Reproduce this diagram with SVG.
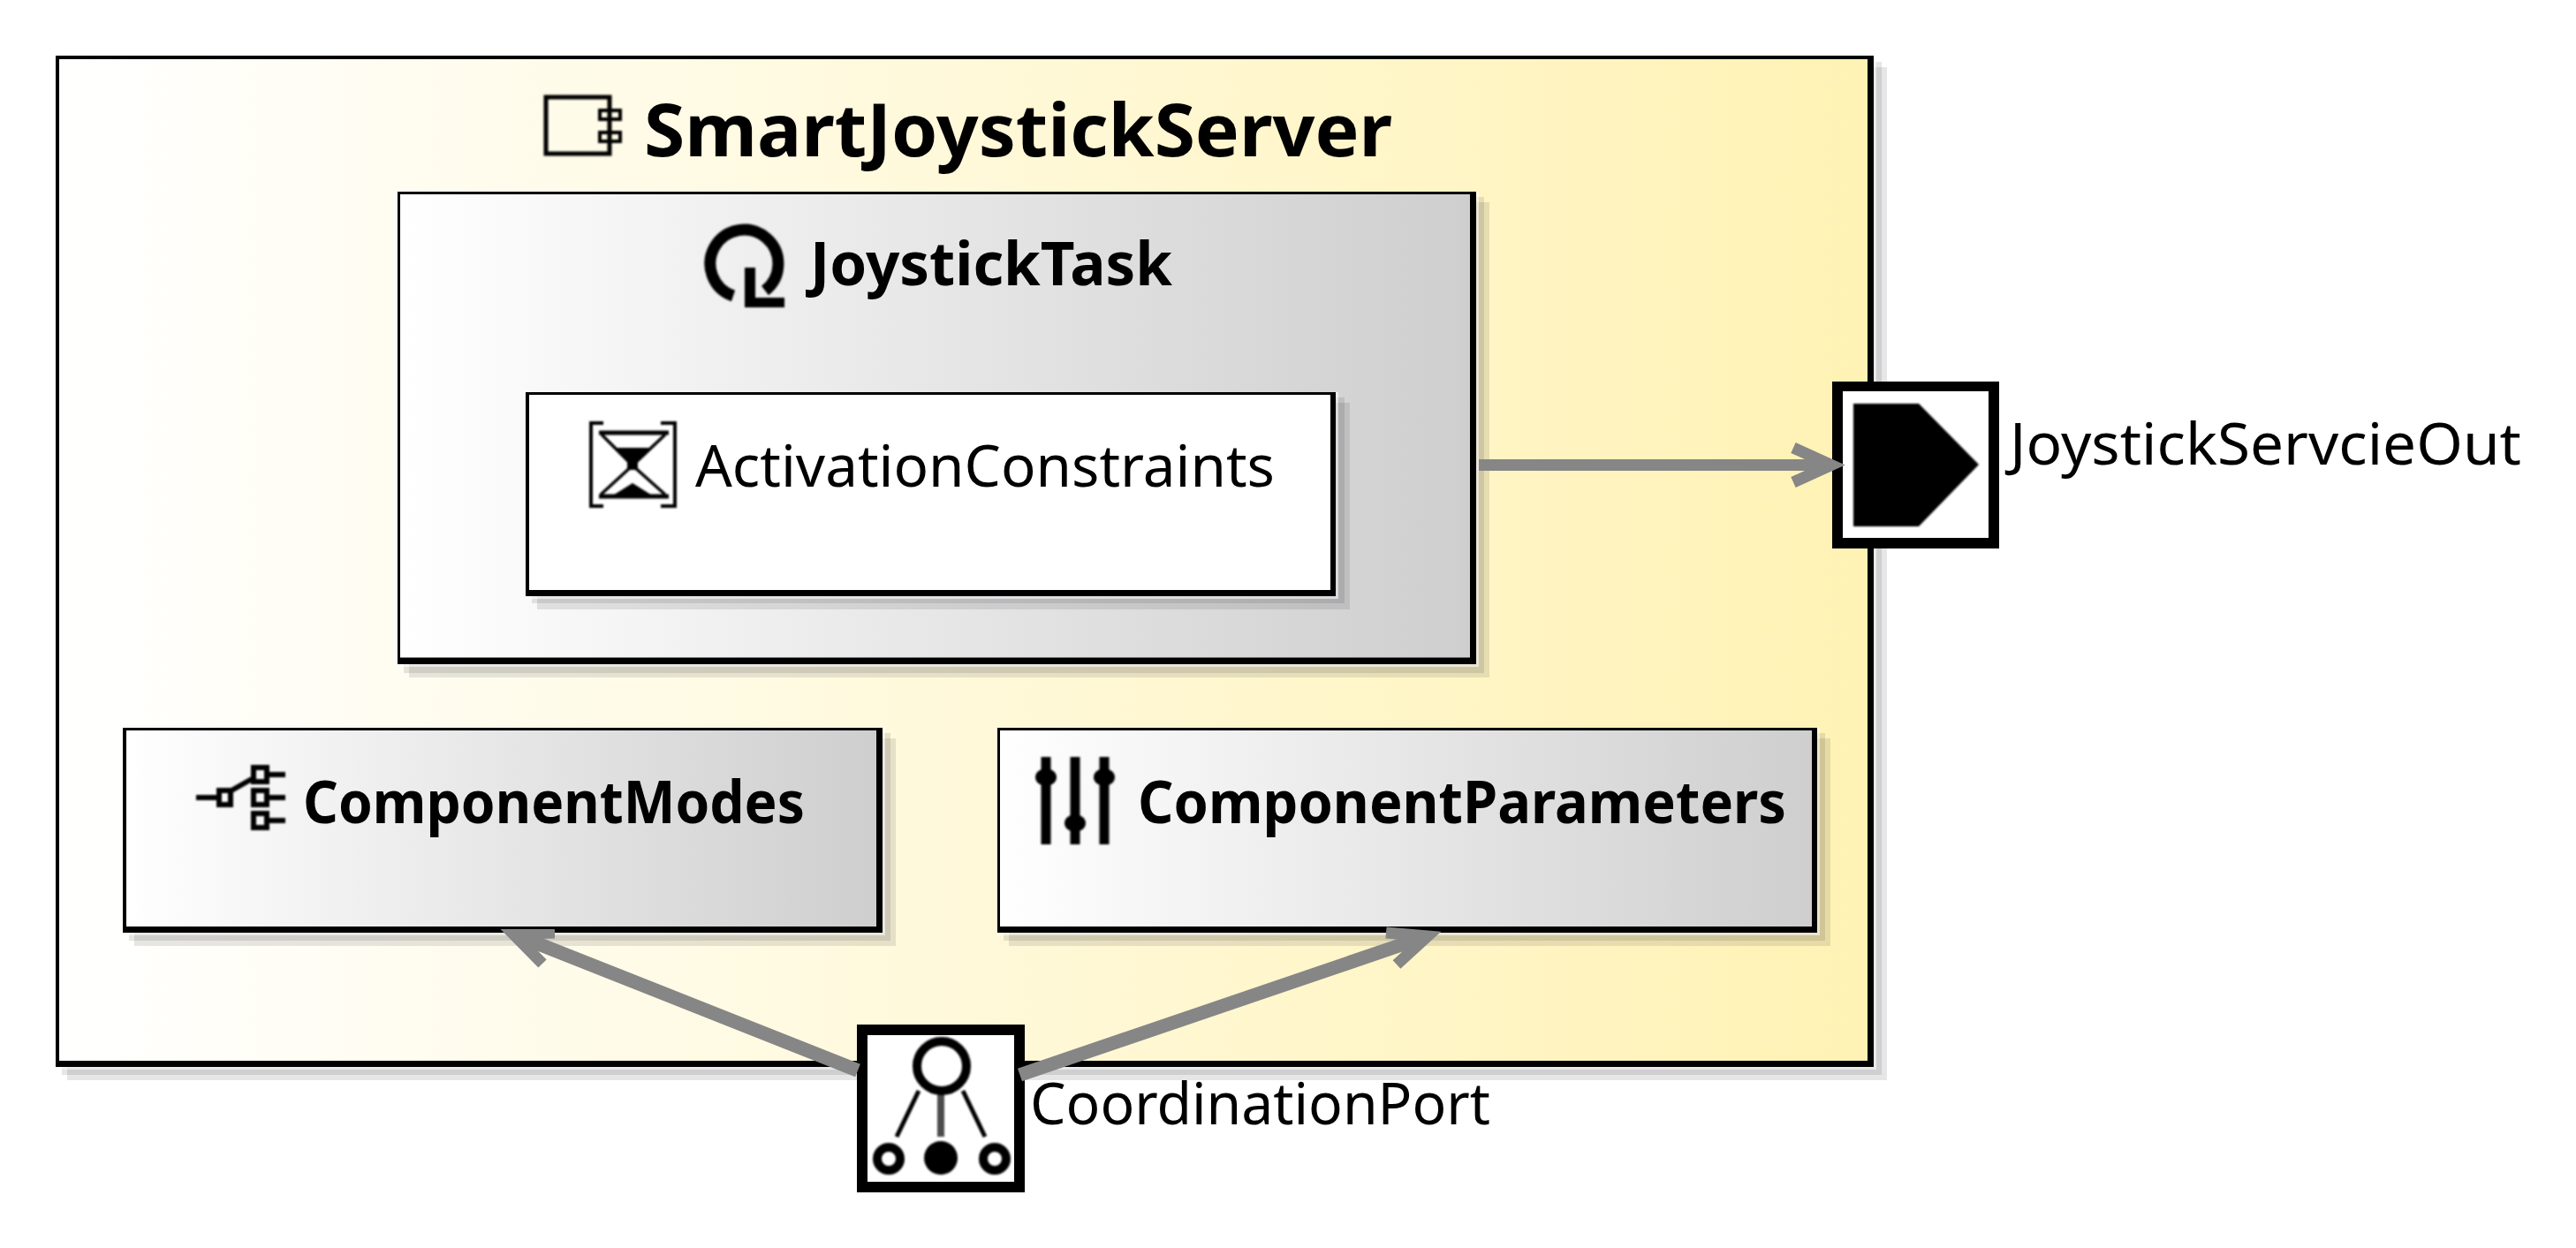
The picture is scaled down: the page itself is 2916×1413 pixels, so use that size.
<svg xmlns="http://www.w3.org/2000/svg" width="2916" height="1413" viewBox="0 0 2916 1413">
<style>
text{font-family:"Noto Sans","Open Sans","Liberation Sans",sans-serif;fill:#000}
.b{font-weight:700}
.shadow{fill:#101020;fill-opacity:.105}
.halo{fill:#fff;fill-opacity:.55}
.frame{fill:#000;fill-rule:evenodd}
.conn{fill:none;stroke:#868686;stroke-width:13;stroke-miterlimit:10}
.diag{stroke-width:15.500}
.ico{fill:none;stroke:#000}
.soft{filter:url(#soft)}
</style>
<defs>
<linearGradient id="gy"><stop offset="0" stop-color="#fff"/><stop offset="1" stop-color="#fff2b4"/></linearGradient>
<linearGradient id="gg"><stop offset="0" stop-color="#fff"/><stop offset="1" stop-color="#cecece"/></linearGradient>
<filter id="soft" x="-10%" y="-10%" width="120%" height="120%"><feGaussianBlur stdDeviation="1"/></filter>
<clipPath id="cl"><rect x="400" y="1052" width="228" height="100"/><rect x="628" y="1066" width="400" height="200"/></clipPath>
</defs>
<rect width="2916" height="1413" fill="#fff"/>
<g id="SmartJoystickServer">
<rect class="shadow" x="70" y="70" width="2060" height="1147"/>
<rect class="shadow" x="76" y="76" width="2060" height="1147"/>
<rect class="halo" x="63" y="63" width="2061" height="1148"/>
<rect x="63" y="63" width="2058" height="1145" fill="url(#gy)"/>
<path class="frame" d="M63 63H2121V1208H63ZM67 67V1201H2114V67Z"/>
<g class="soft">
<path class="ico" stroke-width="5" fill="#fff" d="M618 110H690V174H618Z"/>
<path class="ico" stroke-width="4" fill="#fff" d="M679 125H702V135H679ZM679 150H702V160H679Z"/>
</g>
<text class="b" x="729" y="177" font-size="82" textLength="847" lengthAdjust="spacingAndGlyphs">SmartJoystickServer</text>
</g>
<g id="JoystickTask">
<rect class="shadow" x="457" y="223" width="1223" height="539"/>
<rect class="shadow" x="463" y="229" width="1223" height="538"/>
<rect class="halo" x="450" y="217" width="1224" height="538"/>
<rect x="450" y="217" width="1221" height="535" fill="url(#gg)"/>
<path class="frame" d="M450 217H1671V752H450ZM453 220V744.500H1664V220Z"/>
<g class="soft">
<path class="ico" stroke-width="13" d="M830 335A38.500 38.500 0 1 1 866 329"/>
<path d="M843 303H855V337H888V348H843Z"/>
</g>
<text class="b" x="917" y="323" font-size="69" textLength="410" lengthAdjust="spacingAndGlyphs">JoystickTask</text>
</g>
<g id="ActivationConstraints">
<rect class="shadow" x="602" y="450" width="920" height="233"/>
<rect class="shadow" x="608" y="456" width="920" height="234"/>
<rect class="halo" x="595" y="444" width="920" height="234"/>
<rect x="595" y="444" width="917" height="231" fill="#fff"/>
<path class="frame" d="M595 444H1512V675H595ZM599 447V668H1506V447Z"/>
<g class="soft">
<path class="ico" stroke-width="4" d="M683 479H669V573H683M748 479H764V573H748"/>
<path class="ico" stroke-width="5" d="M678 490H757M678 562H757"/>
<path class="ico" stroke-width="3.500" d="M681 492L716 527L753 492M716 527L680 560M716 527L753 560"/>
<path d="M698 507H735L722 522V532H710V522Z"/>
<path d="M716 547L740 562H692Z"/>
</g>
<text x="787" y="551" font-size="65" textLength="656" lengthAdjust="spacingAndGlyphs">ActivationConstraints</text>
</g>
<g id="ComponentModes">
<rect class="shadow" x="146" y="830" width="862" height="235"/>
<rect class="shadow" x="152" y="836" width="862" height="235"/>
<rect class="halo" x="139" y="824" width="863" height="235"/>
<rect x="139" y="824" width="860" height="232" fill="url(#gg)"/>
<path class="frame" d="M139 824H999V1056H139ZM143 827V1049H992V827Z"/>
<g class="soft">
<path class="ico" stroke-width="6" d="M222 903H247M305 877H323M305 903H323M305 929H323M262 895L285 882"/>
<path class="ico" stroke-width="6" fill="#fff" d="M248 895H261V911H248ZM287 869H302V885H287ZM287 895H302V911H287ZM287 921H302V937H287Z"/>
</g>
<text class="b" x="343" y="932" font-size="66" textLength="568" lengthAdjust="spacingAndGlyphs">ComponentModes</text>
</g>
<g id="ComponentParameters">
<rect class="shadow" x="1136" y="830" width="930" height="235"/>
<rect class="shadow" x="1142" y="836" width="930" height="235"/>
<rect class="halo" x="1129" y="824" width="931" height="235"/>
<rect x="1129" y="824" width="928" height="232" fill="url(#gg)"/>
<path class="frame" d="M1129 824H2057V1056H1129ZM1132 827V1049H2051V827Z"/>
<g class="soft">
<path class="ico" stroke-width="11" d="M1184 857V956M1217 857V956M1250 857V956"/>
<ellipse cx="1184" cy="880" rx="12" ry="10"/>
<ellipse cx="1217" cy="932" rx="12" ry="10"/>
<ellipse cx="1250" cy="880" rx="12" ry="10"/>
</g>
<text class="b" x="1288" y="932" font-size="66" textLength="734" lengthAdjust="spacingAndGlyphs">ComponentParameters</text>
</g>
<g id="JoystickServcieOut">
<rect x="2074" y="432" width="189" height="189" fill="#fff"/>
<path class="frame" d="M2074 432H2263V621H2074ZM2086 443V609H2251V443Z"/>
<path class="soft" d="M2098 457H2172L2240 526L2172 596H2098Z"/>
<text x="2275" y="526" font-size="66" textLength="579" lengthAdjust="spacingAndGlyphs">JoystickServcieOut</text>
</g>
<g id="CoordinationPort">
<rect x="970" y="1160" width="190" height="190" fill="#fff"/>
<path class="frame" d="M970 1160H1160V1350H970ZM982 1172V1338H1148V1172Z"/>
<g class="soft">
<path class="ico" stroke-width="5" d="M1040 1235L1015 1287M1090 1235L1115 1287"/>
<path class="ico" stroke-width="8" stroke-opacity=".7" d="M1065 1238V1287"/>
<circle class="ico" stroke-width="10" cx="1066" cy="1207" r="28"/>
<circle class="ico" stroke-width="10" cx="1006" cy="1312" r="13"/>
<circle cx="1065" cy="1311" r="19"/>
<circle class="ico" stroke-width="10" cx="1126" cy="1312" r="13"/>
</g>
<text x="1166" y="1273" font-size="65" textLength="521" lengthAdjust="spacingAndGlyphs">CoordinationPort</text>
</g>
<g id="connectors">
<path class="conn" d="M1674 526.500H2070"/>
<path class="conn" d="M2030 507L2073 526.500L2030 546"/>
<path class="conn diag" d="M1154.500 1217L1612 1061"/>
<path class="conn" d="M1569 1056L1616 1060L1581 1092"/>
<g clip-path="url(#cl)"><path class="conn diag" d="M971 1212L585 1059"/><path class="conn" d="M628 1056L581 1057.500L614 1091"/></g>
</g>
</svg>
